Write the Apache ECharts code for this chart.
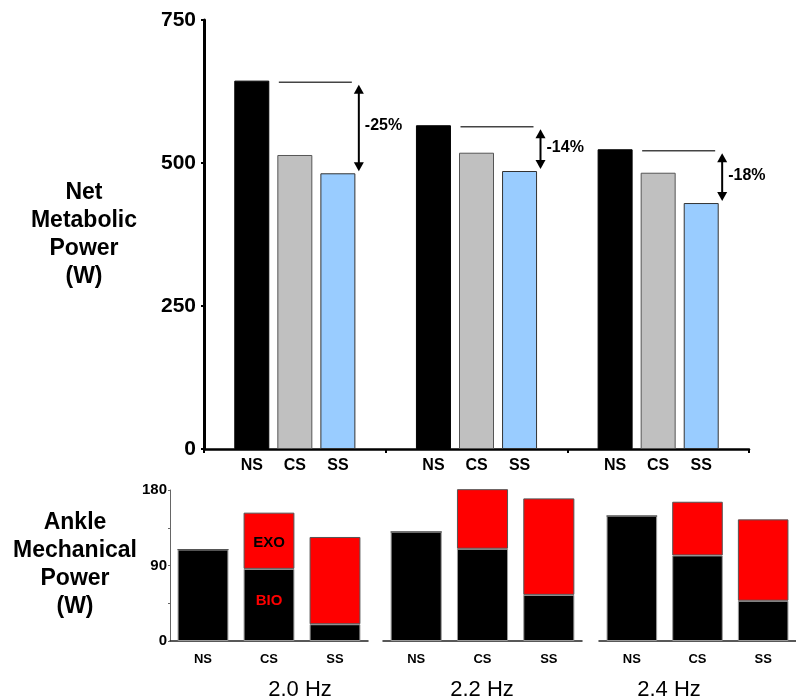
<!DOCTYPE html>
<html>
<head>
<meta charset="utf-8">
<script src="https://cdn.jsdelivr.net/npm/echarts@6/dist/echarts.min.js"></script>
<style>html,body{margin:0;padding:0;background:#fff;}#c{width:796px;height:698px;}</style>
</head>
<body>
<div id="c"></div>
<script>
// ---- data ----
var categories = ['2.0 Hz', '2.2 Hz', '2.4 Hz'];
var conditions = ['NS', 'CS', 'SS'];
var metabolicNS = [644, 566, 524];
var metabolicCS = [514, 518, 483];
var metabolicSS = [482, 486, 430];
var changeLabels = ['-25%', '-14%', '-18%'];
var metabolicTicks = [0, 250, 500, 750];
// ankle mechanical power, per frequency: [NS, CS, SS]
var ankleBio = [[109, 86, 20], [130, 110, 55], [149, 102, 48]];
var ankleExo = [[0, 67, 104], [0, 71, 115], [0, 64, 97]];
var ankleTicks = [0, 90, 180];

var FONT = '"Liberation Sans", Arial, sans-serif';
var chart = echarts.init(document.getElementById('c'), null, {renderer: 'canvas'});

var grids = [
  {left: 204, width: 545, top: 20, height: 429},
  {left: 170, width: 198, top: 490, height: 151},
  {left: 383, width: 199, top: 490, height: 151},
  {left: 599, width: 202, top: 490, height: 151}
];

var xAxes = [{
  type: 'category', gridIndex: 0, data: categories,
  axisLine: {lineStyle: {color: '#000', width: 2.5}},
  axisTick: {show: true, length: 4, lineStyle: {color: '#000', width: 2}},
  axisLabel: {show: false}
}];
var yAxes = [{
  type: 'value', gridIndex: 0, min: 0, max: 750, interval: 250,
  axisLine: {show: true, lineStyle: {color: '#000', width: 3}},
  axisTick: {show: true, length: 3, lineStyle: {color: '#000', width: 2}},
  splitLine: {show: false},
  axisLabel: {margin: 8, color: '#000', fontSize: 21, fontWeight: 'bold', fontFamily: FONT,
    formatter: function (v) { return metabolicTicks.indexOf(v) >= 0 ? String(v) : ''; }}
}];
for (var p = 0; p < 3; p++) {
  xAxes.push({
    type: 'category', gridIndex: p + 1, data: conditions,
    axisLine: {lineStyle: {color: '#222', width: 1.5}},
    axisTick: {show: false},
    axisLabel: {margin: 12, color: '#000', fontSize: 13, fontWeight: 'bold', fontFamily: FONT}
  });
  yAxes.push({
    type: 'value', gridIndex: p + 1, min: 0, max: 180, interval: 45,
    show: p === 0,
    axisLine: {show: true, lineStyle: {color: '#666', width: 1}},
    axisTick: {show: true, length: 2, lineStyle: {color: '#666'}},
    splitLine: {show: false},
    axisLabel: {margin: 3, color: '#000', fontSize: 15, fontWeight: 'bold', fontFamily: FONT,
      formatter: function (v) { return ankleTicks.indexOf(v) >= 0 ? String(v) : ''; }}
  });
}

var topColors = ['#000000', '#c0c0c0', '#99ccff'];
var topBorders = ['#000000', '#555555', '#333333'];
var topValues = [metabolicNS, metabolicCS, metabolicSS];
var series = [];
conditions.forEach(function (c, k) {
  series.push({
    type: 'bar', name: c, xAxisIndex: 0, yAxisIndex: 0,
    data: topValues[k], barWidth: 35, barGap: '23%',
    itemStyle: {color: topColors[k], borderColor: topBorders[k], borderWidth: 1},
    label: {show: true, position: 'bottom', distance: 9, formatter: c,
      color: '#000', fontSize: 16, fontWeight: 'bold', fontFamily: FONT},
    silent: true, animation: false
  });
});

series.push({
  type: 'custom', xAxisIndex: 0, yAxisIndex: 0, silent: true, animation: false, clip: false, z: 10,
  data: categories.map(function (c, i) { return [i, metabolicNS[i], metabolicSS[i]]; }),
  encode: {x: 0, y: [1, 2]},
  renderItem: function (params, api) {
    var i = api.value(0), ns = api.value(1), ss = api.value(2);
    var pN = api.coord([i, ns]), pS = api.coord([i, ss]);
    var cx = pN[0];
    var ax = cx + 64;
    var yT = pN[1] + 4, yB = pS[1] - 2;
    var h = 9, w = 5;
    return {type: 'group', children: [
      {type: 'line', shape: {x1: cx - 16, y1: pN[1] + 1.5, x2: cx + 57, y2: pN[1] + 1.5},
        style: {stroke: '#444', lineWidth: 1.5}},
      {type: 'line', shape: {x1: ax, y1: yT + h - 1, x2: ax, y2: yB - h + 1},
        style: {stroke: '#000', lineWidth: 2}},
      {type: 'polygon', shape: {points: [[ax, yT], [ax - w, yT + h], [ax + w, yT + h]]}, style: {fill: '#000'}},
      {type: 'polygon', shape: {points: [[ax, yB], [ax - w, yB - h], [ax + w, yB - h]]}, style: {fill: '#000'}},
      {type: 'text', style: {x: ax + 6, y: (yT + yB) / 2 - 2, text: changeLabels[i], fill: '#000',
        fontSize: 16, fontWeight: 'bold', fontFamily: FONT, align: 'left', verticalAlign: 'middle'}}
    ]};
  }
});

for (var q = 0; q < 3; q++) {
  var bioData = ankleBio[q].map(function (v, j) {
    if (q === 0 && j === 1) return {value: v, label: {show: true, formatter: 'BIO', color: '#ff0000',
      fontSize: 15, fontWeight: 'bold', fontFamily: FONT, position: 'inside', offset: [0, -4]}};
    return v;
  });
  var exoData = ankleExo[q].map(function (v, j) {
    if (q === 0 && j === 1) return {value: v, label: {show: true, formatter: 'EXO', color: '#000',
      fontSize: 15, fontWeight: 'bold', fontFamily: FONT, position: 'inside', offset: [0, 2]}};
    return v;
  });
  series.push({
    type: 'bar', name: 'BIO', stack: 'p' + q, xAxisIndex: q + 1, yAxisIndex: q + 1,
    data: bioData, barWidth: '77%', clip: false,
    itemStyle: {color: '#000000', borderColor: '#999999', borderWidth: 1},
    silent: true, animation: false
  });
  series.push({
    type: 'bar', name: 'EXO', stack: 'p' + q, xAxisIndex: q + 1, yAxisIndex: q + 1,
    data: exoData, barWidth: '77%', clip: false,
    itemStyle: {color: '#ff0000', borderColor: '#555555', borderWidth: 1},
    silent: true, animation: false
  });
}

var hzX = [300, 482, 669];
var graphic = [
  {type: 'text', x: 84, y: 235, style: {text: 'Net\nMetabolic\nPower\n(W)',
    align: 'center', verticalAlign: 'middle', lineHeight: 28, fontSize: 23, fontWeight: 'bold', fontFamily: FONT, fill: '#000'}},
  {type: 'text', x: 75, y: 565, style: {text: 'Ankle\nMechanical\nPower\n(W)',
    align: 'center', verticalAlign: 'middle', lineHeight: 28, fontSize: 23, fontWeight: 'bold', fontFamily: FONT, fill: '#000'}}
];
categories.forEach(function (c, i) {
  graphic.push({type: 'text', x: hzX[i], y: 690, style: {text: c, align: 'center', verticalAlign: 'middle',
    fontSize: 22, fontFamily: FONT, fill: '#000'}});
});

chart.setOption({
  animation: false,
  backgroundColor: '#fff',
  grid: grids,
  xAxis: xAxes,
  yAxis: yAxes,
  series: series,
  graphic: graphic
});
</script>
</body>
</html>
